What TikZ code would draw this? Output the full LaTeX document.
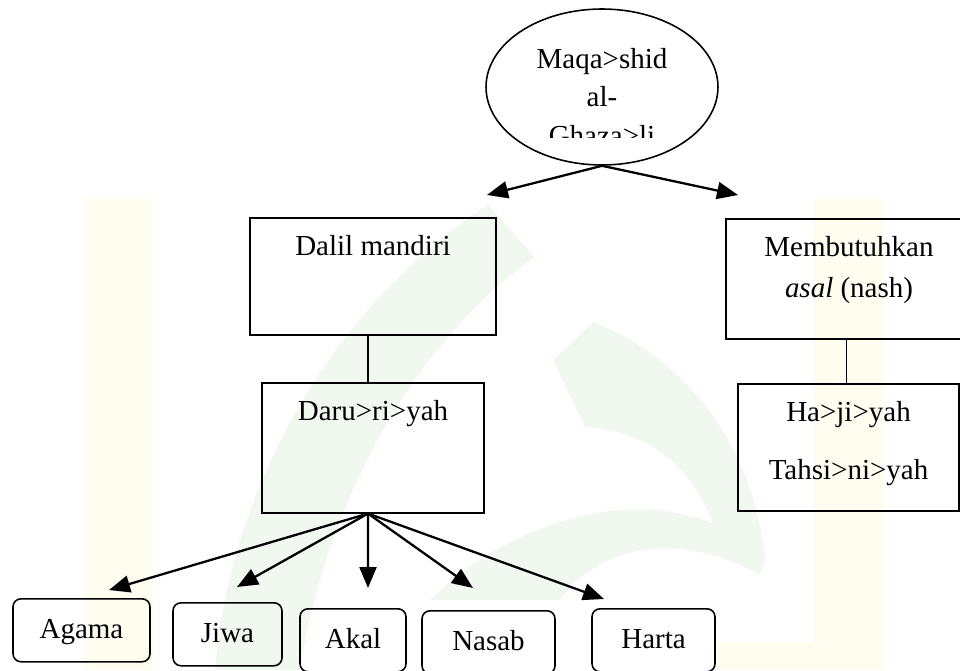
\documentclass[tikz,border=0pt]{standalone}
\usepackage{fontspec}
\setmainfont{Liberation Serif}
\usetikzlibrary{shapes.geometric,arrows.meta}

\definecolor{wmyellow}{RGB}{255,252,240}
\definecolor{wmgreen}{RGB}{240,248,240}

\begin{document}
\begin{tikzpicture}[x=0.02cm, y=-0.02cm,
    font=\fontsize{16.5}{23}\selectfont,
    box/.style={draw, line width=0.9pt, inner sep=0pt, text height=0.76cm, anchor=north},
    leaf/.style={draw, line width=0.9pt, rounded corners=0.16cm, inner sep=0pt,
        text height=0.8cm, text depth=0.46cm, anchor=north},
    arr/.style={line width=1.3pt, -{Triangle[length=0.42cm,width=0.34cm]}}]
    \useasboundingbox (0,0) rectangle (960,670);

    % faint watermark
    \fill[wmyellow] (83,199) rectangle (153,670);
    \fill[wmyellow] (813,199) rectangle (883,670);
    \fill[wmyellow] (715,642) rectangle (813,670);
    \fill[wmgreen] (488,205) -- (535,257) .. controls (430,330) and (330,480) .. (300,670)
        -- (215,670) .. controls (230,480) and (340,300) .. (488,205) -- cycle;
    \fill[wmgreen] (553,360) -- (593,322) .. controls (690,360) and (755,450) .. (765,560)
        -- (720,545) .. controls (700,470) and (650,430) .. (585,427) -- cycle;
    \fill[wmgreen] (430,600) .. controls (520,510) and (680,470) .. (765,560)
        -- (760,575) .. controls (680,530) and (600,545) .. (560,600) -- cycle;

    % top ellipse
    \node[draw, ellipse, line width=0.9pt, inner sep=0pt,
        minimum width=4.64cm, minimum height=3.12cm] (maqasid) at (602,87) {};
    \begin{scope}
        \clip (480,0) rectangle (725,137);
        \node[anchor=base, inner sep=0pt] (maqtext) at (602,68)
            {\parbox[t]{4cm}{\centering Maqa>shid\\[-1pt]al-\\[-1pt]Ghaza>li}};
    \end{scope}

    % second level
    \node[box, minimum width=4.92cm, text depth=1.58cm] (dalil) at (373,217) {Dalil mandiri};
    \node[box, minimum width=4.92cm, text depth=1.64cm] (memb) at (849,218)
        {\parbox[t]{4.6cm}{\centering Membutuhkan\\\textit{asal} (nash)}};

    % third level
    \node[box, minimum width=4.44cm, text depth=1.84cm] (daru) at (373,382) {Daru>ri>yah};
    \node[box, minimum width=4.42cm, text depth=1.78cm] (haji) at (848.5,383)
        {\parbox[t]{4.2cm}{\centering Ha>ji>yah\\[10pt]Tahsi>ni>yah}};

    % leaves
    \node[leaf, minimum width=2.74cm] (agama) at (81.5,598) {Agama};
    \node[leaf, minimum width=2.18cm] (jiwa) at (227.5,602) {Jiwa};
    \node[leaf, minimum width=2.12cm] (akal) at (353,608) {Akal};
    \node[leaf, minimum width=2.66cm] (nasab) at (488.5,610) {Nasab};
    \node[leaf, minimum width=2.46cm] (harta) at (653.5,608) {Harta};

    % arrow ends
    \coordinate (tipdalil) at (487,195);
    \coordinate (tipmemb) at (738,195);
    \coordinate (daruout) at ([xshift=-0.1cm]daru.south);
    \coordinate (tipagama) at (109,590);
    \coordinate (tipjiwa) at (237,587);
    \coordinate (tipakal) at (368,588);
    \coordinate (tipnasab) at (473,588);
    \coordinate (tipharta) at (604,599);
    \coordinate (hajitop) at ([xshift=-0.04cm]haji.north);

    % connectors
    \draw[arr] (maqasid.south) -- (tipdalil);
    \draw[arr] (maqasid.south) -- (tipmemb);
    \draw[line width=0.9pt] ([xshift=-0.1cm]dalil.south) -- ([xshift=-0.1cm]daru.north);
    \draw[line width=0.9pt] (hajitop |- memb.south) -- (hajitop);
    \draw[arr] (daruout) -- (tipagama);
    \draw[arr] (daruout) -- (tipjiwa);
    \draw[arr] (daruout) -- (tipakal);
    \draw[arr] (daruout) -- (tipnasab);
    \draw[arr] (daruout) -- (tipharta);

\end{tikzpicture}
\end{document}
